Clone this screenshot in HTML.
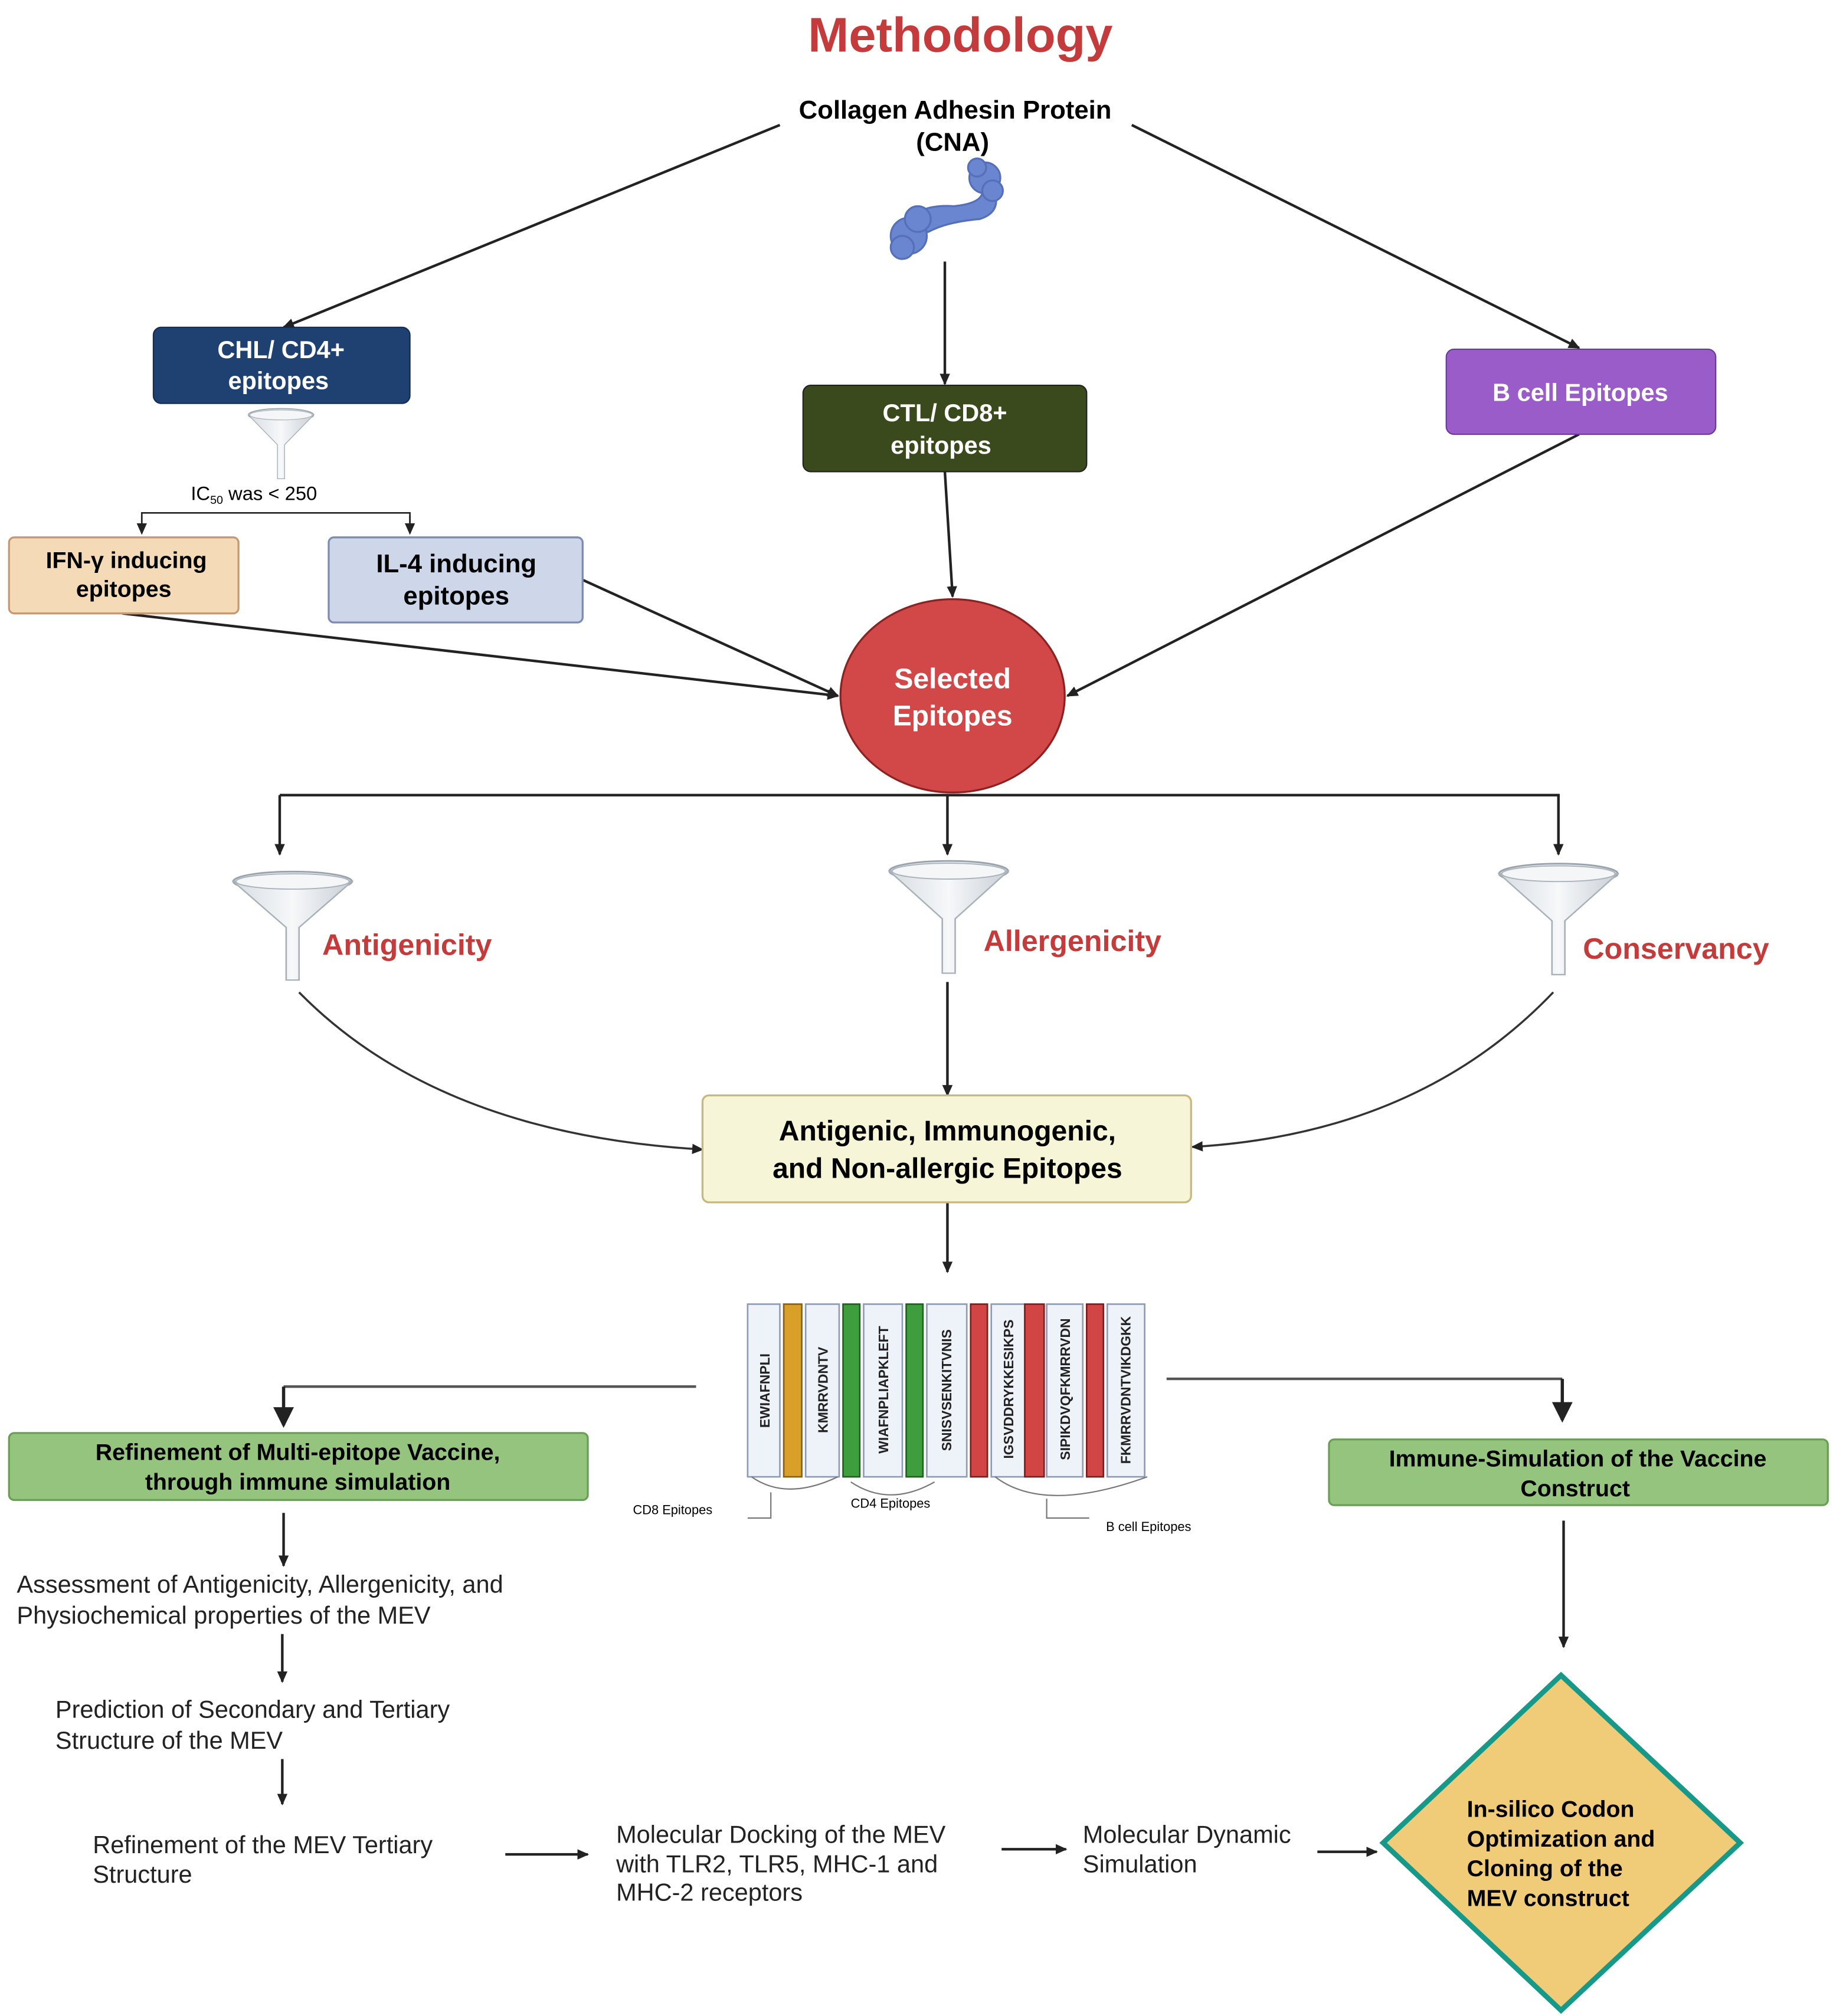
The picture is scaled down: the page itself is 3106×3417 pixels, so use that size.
<!DOCTYPE html>
<html><head><meta charset="utf-8"><style>
html,body{margin:0;padding:0;background:#fff}
svg{display:block}
text{font-family:"Liberation Sans",sans-serif}
</style></head><body>
<svg width="3106" height="3417" viewBox="0 0 1422 1564.4" preserveAspectRatio="none" xmlns="http://www.w3.org/2000/svg">
<defs>
<marker id="a" markerWidth="10" markerHeight="10" refX="8" refY="5" orient="auto" markerUnits="userSpaceOnUse"><path d="M0,1 L9,5 L0,9 Z" fill="#222"/></marker>
<marker id="b" markerWidth="20" markerHeight="20" refX="14" refY="9" orient="auto" markerUnits="userSpaceOnUse"><path d="M0,1 L16,9 L0,17 Z" fill="#222"/></marker>
<linearGradient id="fg" x1="0" x2="1"><stop offset="0" stop-color="#d8dde2"/><stop offset="0.5" stop-color="#f6f8fa"/><stop offset="1" stop-color="#c9cfd6"/></linearGradient>
<g id="funnel"><ellipse cx="0" cy="0" rx="46" ry="9" fill="#e9edf1" stroke="#9aa3ab" stroke-width="1.5"/><path d="M-46,0 L-5,42 L-5,90 L5,90 L5,42 L46,0 Z" fill="url(#fg)" stroke="#a9b1b8" stroke-width="1.2"/><ellipse cx="0" cy="0" rx="44" ry="7" fill="#f4f6f8" stroke="#aab2ba" stroke-width="1"/></g>
</defs>
<g fill="none" stroke="#222" stroke-width="2">
<text x="745" y="40" font-size="38" font-weight="bold" fill="#c53a3a" stroke="none" text-anchor="middle">Methodology</text>
<line x1="605" y1="97" x2="220" y2="254" marker-end="url(#a)"/>
<line x1="878" y1="97" x2="1225" y2="270" marker-end="url(#a)"/>
<line x1="733" y1="203" x2="733" y2="298" marker-end="url(#a)"/>
<line x1="95" y1="476" x2="650" y2="540" marker-end="url(#a)"/>
<line x1="452" y1="450" x2="650" y2="540" marker-end="url(#a)"/>
<line x1="733" y1="366" x2="739" y2="463" marker-end="url(#a)"/>
<line x1="1225" y1="337" x2="828" y2="540" marker-end="url(#a)"/>
<path d="M217,617 H1210"/>
<line x1="217" y1="617" x2="217" y2="663" marker-end="url(#a)"/>
<line x1="735" y1="617" x2="735" y2="663" marker-end="url(#a)"/>
<line x1="1209" y1="617" x2="1209" y2="663" marker-end="url(#a)"/>
<path d="M232,770 Q340,880 545,892" marker-end="url(#a)" stroke="#333" stroke-width="1.6"/>
<path d="M1205,770 Q1100,880 925,890" marker-end="url(#a)" stroke="#333" stroke-width="1.6"/>
<line x1="735" y1="762" x2="735" y2="850" marker-end="url(#a)"/>
<line x1="735" y1="933" x2="735" y2="987" marker-end="url(#a)"/>
<path d="M540,1076 H220" stroke="#555"/>
<line x1="220" y1="1076" x2="220" y2="1106" marker-end="url(#b)" stroke-width="2.5"/>
<path d="M905,1070 H1212" stroke="#555"/>
<line x1="1212" y1="1070" x2="1212" y2="1102" marker-end="url(#b)" stroke-width="2.5"/>
<line x1="220" y1="1174" x2="220" y2="1215" marker-end="url(#a)"/>
<line x1="219" y1="1268" x2="219" y2="1305" marker-end="url(#a)"/>
<line x1="219" y1="1365" x2="219" y2="1400" marker-end="url(#a)"/>
<line x1="392" y1="1439" x2="456" y2="1439" marker-end="url(#a)"/>
<line x1="777" y1="1435" x2="827" y2="1435" marker-end="url(#a)"/>
<line x1="1022" y1="1437" x2="1068" y2="1437" marker-end="url(#a)"/>
<line x1="1213" y1="1180" x2="1213" y2="1278" marker-end="url(#a)"/>
<path d="M110,413 V398 H318 V413" stroke-width="1.2"/>
<line x1="110" y1="400" x2="110" y2="414" marker-end="url(#a)" stroke-width="1.2"/>
<line x1="318" y1="400" x2="318" y2="414" marker-end="url(#a)" stroke-width="1.2"/>
</g>
<text x="741" y="92" font-size="20" font-weight="bold" text-anchor="middle">Collagen Adhesin Protein</text>
<text x="739" y="117" font-size="20" font-weight="bold" text-anchor="middle">(CNA)</text>
<g fill="#6a86d0" stroke="#5570b8" stroke-width="1.5">
<path d="M700,175 Q712,158 740,160 Q760,158 762,150 L772,150 Q776,165 760,170 Q735,172 720,180 Z"/>
<circle cx="705" cy="183" r="14"/><circle cx="712" cy="170" r="10"/><circle cx="700" cy="192" r="9"/>
<circle cx="764" cy="138" r="12"/><circle cx="770" cy="148" r="8"/><circle cx="758" cy="130" r="7"/>
</g>
<rect x="119" y="254" width="199" height="59" rx="6" fill="#1f4171" stroke="#142c50"/>
<text x="218" y="278" font-size="19" font-weight="bold" fill="#fff" text-anchor="middle">CHL/ CD4+</text>
<text x="216" y="302" font-size="19" font-weight="bold" fill="#fff" text-anchor="middle">epitopes</text>
<rect x="623" y="299" width="220" height="67" rx="6" fill="#3a4a1d" stroke="#222"/>
<text x="733" y="327" font-size="19" font-weight="bold" fill="#fff" text-anchor="middle">CTL/ CD8+</text>
<text x="730" y="352" font-size="19" font-weight="bold" fill="#fff" text-anchor="middle">epitopes</text>
<rect x="1122" y="271" width="209" height="66" rx="6" fill="#9a5cc9" stroke="#6a3a99"/>
<text x="1226" y="311" font-size="19" font-weight="bold" fill="#fff" text-anchor="middle">B cell Epitopes</text>
<use href="#funnel" transform="translate(218,322) scale(0.55)"/>
<text x="197" y="388" font-size="15" text-anchor="middle">IC<tspan font-size="9" dy="3">50</tspan><tspan dy="-3"> was &lt; 250</tspan></text>
<rect x="7" y="417" width="178" height="59" rx="4" fill="#f5dab7" stroke="#c49a75" stroke-width="1.5"/>
<text x="98" y="441" font-size="18" font-weight="bold" text-anchor="middle">IFN-γ inducing</text>
<text x="96" y="463" font-size="18" font-weight="bold" text-anchor="middle">epitopes</text>
<rect x="255" y="417" width="197" height="66" rx="4" fill="#ced6ea" stroke="#7d8bb0" stroke-width="1.5"/>
<text x="354" y="444" font-size="20" font-weight="bold" text-anchor="middle">IL-4 inducing</text>
<text x="354" y="469" font-size="20" font-weight="bold" text-anchor="middle">epitopes</text>
<ellipse cx="739" cy="540" rx="87" ry="75" fill="#d24747" stroke="#8b2222" stroke-width="1.5"/>
<text x="739" y="534" font-size="22" font-weight="bold" fill="#fff" text-anchor="middle">Selected</text>
<text x="739" y="563" font-size="22" font-weight="bold" fill="#fff" text-anchor="middle">Epitopes</text>
<use href="#funnel" transform="translate(227,684) scale(1,0.85)"/>
<use href="#funnel" transform="translate(736,676) scale(1,0.88)"/>
<use href="#funnel" transform="translate(1209,678) scale(1,0.87)"/>
<text x="250" y="741" font-size="23" font-weight="bold" fill="#c53a3a">Antigenicity</text>
<text x="763" y="738" font-size="23" font-weight="bold" fill="#c53a3a">Allergenicity</text>
<text x="1228" y="744" font-size="23" font-weight="bold" fill="#c53a3a">Conservancy</text>
<rect x="545" y="850" width="379" height="83" rx="5" fill="#f7f5d8" stroke="#c8b87a" stroke-width="1.5"/>
<text x="735" y="885" font-size="22" font-weight="bold" text-anchor="middle">Antigenic, Immunogenic,</text>
<text x="735" y="914" font-size="22" font-weight="bold" text-anchor="middle">and Non-allergic Epitopes</text>
<g stroke="#8e9bb5" stroke-width="1.2">
<rect x="580" y="1012" width="25" height="134" fill="#eef2f9"/>
<rect x="608" y="1012" width="14" height="134" fill="#d8a028" stroke="#8a6010"/>
<rect x="625" y="1012" width="26" height="134" fill="#eef2f9"/>
<rect x="654" y="1012" width="13" height="134" fill="#3e9e3e" stroke="#1f5f1f"/>
<rect x="670" y="1012" width="30" height="134" fill="#eef2f9"/>
<rect x="703" y="1012" width="13" height="134" fill="#3e9e3e" stroke="#1f5f1f"/>
<rect x="719" y="1012" width="31" height="134" fill="#eef2f9"/>
<rect x="753" y="1012" width="13" height="134" fill="#d24545" stroke="#7a1f1f"/>
<rect x="769" y="1012" width="26" height="134" fill="#eef2f9"/>
<rect x="795" y="1012" width="15" height="134" fill="#d24545" stroke="#7a1f1f"/>
<rect x="812" y="1012" width="28" height="134" fill="#eef2f9"/>
<rect x="843" y="1012" width="13" height="134" fill="#d24545" stroke="#7a1f1f"/>
<rect x="859" y="1012" width="29" height="134" fill="#eef2f9"/>
</g>
<g font-size="10.5" font-weight="bold" fill="#222">
<text transform="translate(597,1108) rotate(-90)">EWIAFNPLI</text>
<text transform="translate(642,1112) rotate(-90)">KMRRVDNTV</text>
<text transform="translate(689,1128) rotate(-90)">WIAFNPLIAPKLEFT</text>
<text transform="translate(738,1126) rotate(-90)">SNISVSENKITVNIS</text>
<text transform="translate(786,1132) rotate(-90)">IGSVDDRYKKESIKPS</text>
<text transform="translate(830,1133) rotate(-90)">SIPIKDVQFKMRRVDN</text>
<text transform="translate(877,1136) rotate(-90)">FKMRRVDNTVIKDGKK</text>
</g>
<g fill="none" stroke="#777" stroke-width="1">
<path d="M583,1146 Q610,1165 650,1146"/><path d="M598,1158 V1178 H580"/>
<path d="M660,1150 Q690,1170 725,1150"/>
<path d="M772,1146 Q810,1175 890,1146"/><path d="M812,1163 V1178 H845"/>
</g>
<text x="491" y="1175" font-size="10">CD8 Epitopes</text>
<text x="660" y="1170" font-size="10">CD4 Epitopes</text>
<text x="858" y="1188" font-size="10">B cell Epitopes</text>
<rect x="7" y="1112" width="449" height="52" rx="4" fill="#94c47d" stroke="#6b9e55" stroke-width="1.5"/>
<text x="231" y="1133" font-size="18" font-weight="bold" text-anchor="middle">Refinement of Multi-epitope Vaccine,</text>
<text x="231" y="1156" font-size="18" font-weight="bold" text-anchor="middle">through immune simulation</text>
<rect x="1031" y="1117" width="387" height="51" rx="4" fill="#94c47d" stroke="#6b9e55" stroke-width="1.5"/>
<text x="1224" y="1138" font-size="18" font-weight="bold" text-anchor="middle">Immune-Simulation of the Vaccine</text>
<text x="1222" y="1161" font-size="18" font-weight="bold" text-anchor="middle">Construct</text>
<g font-size="19" fill="#222">
<text x="13" y="1236">Assessment of Antigenicity, Allergenicity, and</text>
<text x="13" y="1260">Physiochemical properties of the MEV</text>
<text x="43" y="1333">Prediction of Secondary and Tertiary</text>
<text x="43" y="1357">Structure of the MEV</text>
<text x="72" y="1438">Refinement of the MEV Tertiary</text>
<text x="72" y="1461">Structure</text>
<text x="478" y="1430">Molecular Docking of the MEV</text>
<text x="478" y="1453">with TLR2, TLR5, MHC-1 and</text>
<text x="478" y="1475">MHC-2 receptors</text>
<text x="840" y="1430">Molecular Dynamic</text>
<text x="840" y="1453">Simulation</text>
</g>
<path d="M1211,1300 L1350,1430 L1211,1560 L1073,1430 Z" fill="#f0cc78" stroke="#17998a" stroke-width="4"/>
<g font-size="18" font-weight="bold">
<text x="1138" y="1410">In-silico Codon</text>
<text x="1138" y="1433">Optimization and</text>
<text x="1138" y="1456">Cloning of the</text>
<text x="1138" y="1479">MEV construct</text>
</g>
</svg>
</body></html>
